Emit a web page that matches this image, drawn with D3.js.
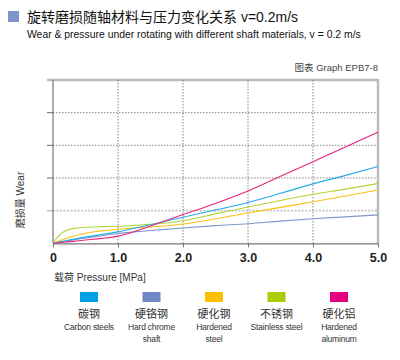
<!DOCTYPE html>
<html><head><meta charset="utf-8">
<script src="https://cdn.jsdelivr.net/npm/d3@7"></script>
<style>body{margin:0;background:#fff}svg{display:block}</style>
</head><body>
<svg id="c" width="400" height="360"></svg>
<script>
const xTicks = [0, 1, 2, 3, 4, 5];
const xTickLabels = ["0", "1.0", "2.0", "3.0", "4.0", "5.0"];
const yGrid = [0, 1, 2, 3, 4, 5];
const seriesNames = ["碳钢", "硬铬钢", "硬化钢", "不锈钢", "硬化铝"];
const seriesEn = [["Carbon steels"], ["Hard chrome", "shaft"], ["Hardened", "steel"], ["Stainless steel"], ["Hardened", "aluminum"]];
const seriesColors = ["#26aae9", "#8196cc", "#fbc116", "#b2d235", "#e8257f"];
const swatchColors = ["#00a0e9", "#7088c8", "#fbbf00", "#aacc00", "#e4007f"];
const pressure = [0, 0.05, 0.1, 0.2, 0.3, 0.5, 0.75, 1.0, 1.25, 1.5, 2.0, 2.5, 3.0, 3.5, 4.0, 4.5, 5.0];
const carbon   = [0, 0.02, 0.04, 0.08, 0.12, 0.19, 0.27, 0.35, 0.46, 0.57, 0.80, 1.02, 1.25, 1.53, 1.82, 2.08, 2.35];
const chrome   = [0, 0.02, 0.03, 0.07, 0.10, 0.16, 0.23, 0.30, 0.35, 0.39, 0.47, 0.54, 0.60, 0.68, 0.75, 0.81, 0.87];
const hardened = [0, 0.04, 0.08, 0.15, 0.21, 0.31, 0.38, 0.43, 0.47, 0.50, 0.59, 0.75, 0.93, 1.10, 1.27, 1.45, 1.63];
const stainless= [0, 0.14, 0.25, 0.39, 0.45, 0.49, 0.51, 0.52, 0.55, 0.58, 0.69, 0.90, 1.11, 1.31, 1.50, 1.66, 1.83];
const aluminum = [0, 0.01, 0.02, 0.04, 0.06, 0.10, 0.15, 0.22, 0.36, 0.53, 0.88, 1.22, 1.60, 2.05, 2.50, 2.95, 3.40];
const seriesValues = [carbon, chrome, hardened, stainless, aluminum];

const FONT = "Liberation Sans, Arial, Noto Sans CJK SC";
const svg = d3.select("#c");
const x = d3.scaleLinear().domain([0, 5]).range([53, 378]);
const y = d3.scaleLinear().domain([0, 5]).range([243.3, 80]);

// title
svg.append("rect").attr("x", 8).attr("y", 11).attr("width", 11).attr("height", 11).attr("fill", "#8094cc");
svg.append("text").attr("x", 27).attr("y", 22).attr("font-family", FONT).attr("font-size", 14).attr("fill", "#111").text("旋转磨损随轴材料与压力变化关系 v=0.2m/s");
svg.append("text").attr("x", 27).attr("y", 38).attr("font-family", FONT).attr("font-size", 10.4).attr("fill", "#111").text("Wear & pressure under rotating with different shaft materials, v = 0.2 m/s");
svg.append("text").attr("x", 378).attr("y", 71).attr("text-anchor", "end").attr("font-family", FONT).attr("font-size", 9.5).attr("fill", "#444").text("图表 Graph EPB7-8");

// grid horizontal
yGrid.forEach(v => {
  if (v === 0) return;
  const top = v === 5, light = v === 1;
  svg.append("line").attr("x1", x(0)).attr("x2", x(5)).attr("y1", y(v)).attr("y2", y(v))
    .attr("stroke", top ? "#bbb" : (light ? "#c4c4c4" : "#666"))
    .attr("stroke-width", top ? 2.5 : (light ? 1.6 : 0.8))
    .attr("stroke-dasharray", top ? null : (light ? "2,1.5" : "1.5,1.5"));
  svg.append("line").attr("x1", x(0) - 6).attr("x2", x(0)).attr("y1", y(v)).attr("y2", y(v))
    .attr("stroke", top ? "#bbb" : (light ? "#c4c4c4" : "#666")).attr("stroke-width", top ? 2.5 : (light ? 1.6 : 1));
});
// grid vertical
xTicks.forEach(v => {
  if (v === 0 || v === 5) return;
  svg.append("line").attr("x1", x(v)).attr("x2", x(v)).attr("y1", y(5)).attr("y2", y(0))
    .attr("stroke", "#666").attr("stroke-width", 0.8).attr("stroke-dasharray", "1.5,1.5");
});
// right border
svg.append("line").attr("x1", x(5)).attr("x2", x(5)).attr("y1", y(5) - 1).attr("y2", y(0))
  .attr("stroke", "#bbb").attr("stroke-width", 2.5);

// axes
const xAxis = d3.axisBottom(x).tickValues(xTicks).tickFormat((d, i) => xTickLabels[i]).tickSize(4).tickSizeOuter(0);
const gx = svg.append("g").attr("transform", `translate(0,${y(0)})`).call(xAxis);
gx.select(".domain").attr("stroke", "#777").attr("stroke-width", 1.2);
gx.selectAll(".tick line").attr("stroke", "#777");
gx.selectAll(".tick text").attr("font-family", FONT).attr("font-size", 12.5).attr("font-weight", "bold").attr("fill", "#222").attr("dy", "0.9em");
svg.append("line").attr("x1", x(0)).attr("x2", x(0)).attr("y1", y(5)).attr("y2", y(0)).attr("stroke", "#777").attr("stroke-width", 1.2);

// labels
svg.append("text").attr("transform", "translate(23.5,200) rotate(-90)").attr("text-anchor", "middle")
  .attr("font-family", FONT).attr("font-size", 10).attr("fill", "#333").text("磨损量 Wear");
svg.append("text").attr("x", 54).attr("y", 281).attr("font-family", FONT).attr("font-size", 10).attr("fill", "#333").text("载荷 Pressure  [MPa]");

// lines
const line = d3.line().x((d, i) => x(pressure[i])).y(d => y(d)).curve(d3.curveMonotoneX);
const drawOrder = [1, 2, 3, 0, 4];
drawOrder.forEach(k => {
  svg.append("path").attr("d", line(seriesValues[k])).attr("fill", "none")
    .attr("stroke", seriesColors[k]).attr("stroke-width", 1.1);
});

// legend
const lx = d3.scalePoint().domain(seriesNames).range([89, 339]);
seriesNames.forEach((n, i) => {
  const cx = lx(n);
  svg.append("rect").attr("x", cx - 9).attr("y", 292).attr("width", 18).attr("height", 10).attr("fill", swatchColors[i]);
  svg.append("text").attr("x", cx).attr("y", 318).attr("text-anchor", "middle").attr("font-family", FONT).attr("font-size", 11).attr("fill", "#333").text(n);
  seriesEn[i].forEach((t, j) => {
    svg.append("text").attr("x", cx).attr("y", 330 + j * 11.7).attr("text-anchor", "middle").attr("font-family", FONT).attr("font-size", 8.5).attr("letter-spacing", "-0.2").attr("fill", "#333").text(t);
  });
});
</script>
</body></html>
